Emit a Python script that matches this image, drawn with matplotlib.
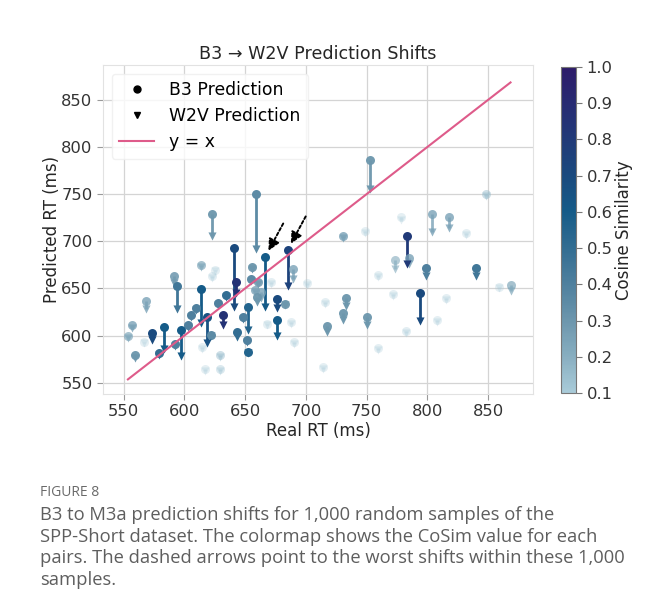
import numpy as np
import matplotlib
matplotlib.use("Agg")
import matplotlib.pyplot as plt
from matplotlib.colors import LinearSegmentedColormap, Normalize
from matplotlib.lines import Line2D
from matplotlib.cm import ScalarMappable

# samples: real RT, B3 prediction, W2V prediction, cosine similarity
real_rt = [553.5, 557, 559, 566.5, 568.5, 573.5, 579.5, 583, 591.5, 594,
           592.5, 597.5, 603, 605.5, 609.5, 614, 614.5, 613.5, 619, 622,
           625, 623, 627.5, 634, 632, 629.5, 629, 617, 641, 642.5,
           643, 652, 648.5, 651.5, 652.5, 659, 623, 655.5, 655, 661,
           658.5, 663, 660, 666.5, 685, 671, 668, 676, 676, 683,
           688, 690, 689.5, 701, 717.5, 714, 716, 730.5, 733, 730.5,
           750.5, 752.5, 749, 759, 759.5, 771.5, 773.5, 785, 783, 778,
           782.5, 794, 799, 803.5, 808, 815.5, 817.5, 831.5, 840, 848,
           859, 868.5]
b3_pred = [599.5, 611, 579, 593.5, 636.5, 603, 581, 609, 663.5, 653,
           591, 605.5, 611, 622, 629, 649.5, 588, 675, 619.5, 601,
           669.5, 663, 634.5, 643.5, 622, 579, 564, 564, 693, 657,
           604, 630.5, 620, 595, 583, 750, 729, 673, 660.5, 657,
           648, 646.5, 641, 683.5, 691, 657, 612.5, 638.5, 616, 633.5,
           614, 593, 671, 655.5, 610, 567, 636, 706, 640, 624,
           620, 786, 711, 664, 586.5, 644, 680, 682.5, 705.5, 725.5,
           604.5, 645.5, 671.5, 728.5, 616, 639.5, 725.5, 708.5, 672, 750,
           651, 653.5]
w2v_pred = [597, 608, 576, 592, 628, 595, 579, 586, 656, 628.5,
            589, 578.5, 609, 620, 627, 613, 586, 673, 592, 599,
            668, 661, 632, 641, 611, 577, 562, 562, 630, 645,
            598, 606, 618, 593, 581, 692, 706, 671, 658, 655,
            646, 640, 636, 630.5, 653, 655, 611, 629, 599.5, 632,
            612, 591, 660.5, 654, 604, 565, 634, 703, 631, 616,
            611, 755, 709, 662, 585, 642, 671, 676, 676, 723,
            603, 615.5, 663, 710, 614, 638, 714, 707, 663.5, 748,
            650, 647.5]
cos_sim = [0.22, 0.25, 0.3, 0.08, 0.25, 0.7, 0.5, 0.6, 0.28, 0.45,
           0.4, 0.6, 0.4, 0.4, 0.4, 0.6, 0.08, 0.22, 0.65, 0.35,
           0.08, 0.1, 0.4, 0.5, 0.85, 0.15, 0.12, 0.08, 0.7, 0.85,
           0.5, 0.55, 0.4, 0.4, 0.55, 0.35, 0.3, 0.3, 0.35, 0.28,
           0.25, 0.25, 0.3, 0.6, 0.75, 0.06, 0.06, 0.7, 0.6, 0.3,
           0.05, 0.06, 0.25, 0.05, 0.3, 0.06, 0.05, 0.25, 0.3, 0.3,
           0.3, 0.3, 0.05, 0.06, 0.06, 0.06, 0.2, 0.25, 0.8, 0.05,
           0.1, 0.7, 0.4, 0.25, 0.08, 0.05, 0.25, 0.05, 0.45, 0.15,
           0.05, 0.22]
worst = [43, 44]  # indices of the two pairs marked with dashed arrows

caption_head = "FIGURE 8"
caption = ("B3 to M3a prediction shifts for 1,000 random samples of the\n"
           "SPP-Short dataset. The colormap shows the CoSim value for each\n"
           "pairs. The dashed arrows point to the worst shifts within these 1,000\n"
           "samples.")

real_rt = np.array(real_rt)
b3_pred = np.array(b3_pred)
w2v_pred = np.array(w2v_pred)
cos_sim = np.array(cos_sim)

cmap = LinearSegmentedColormap.from_list("cos", [
    "#a9cbd9", "#88aec0", "#6c96ad", "#4f809e", "#336d92",
    "#155b88", "#1a4a7e", "#213a78", "#272b72", "#2d1b69"])
norm = Normalize(vmin=0.1, vmax=1.0)
colors = cmap(norm(cos_sim))
colors[:, 3] = np.clip(cos_sim * 3.2, 0.3, 1.0)

plt.rcParams['font.family'] = ['DejaVu Sans']
fig = plt.figure(figsize=(6.54, 6.12), dpi=100)
ax = fig.add_axes([103 / 654, 1 - 394 / 612, 430 / 654, 329 / 612])
cax = fig.add_axes([561 / 654, 1 - 393 / 612, 15 / 654, 326 / 612])

ax.grid(True, color="#d4d4d4", lw=0.9)
ax.set_axisbelow(True)
for s in ax.spines.values():
    s.set_color("#e2e2e2")

order = np.argsort(cos_sim)
for i in order:
    ax.plot([real_rt[i], real_rt[i]], [b3_pred[i], w2v_pred[i]], color=colors[i], lw=2.0,
            solid_capstyle="butt", zorder=2)
    ax.scatter(real_rt[i], w2v_pred[i], marker="v", s=34, color=colors[i], lw=0, zorder=3)
    ax.scatter(real_rt[i], b3_pred[i], marker="o", s=42, color=colors[i], lw=0, zorder=3)

lo, hi = real_rt.min(), real_rt.max()
ax.plot([lo, hi], [lo, hi], color="#de5b8a", lw=1.5, zorder=4)

for i in worst:
    ax.annotate("", xy=(real_rt[i], b3_pred[i]), xytext=(13, 24), textcoords="offset points",
                arrowprops=dict(arrowstyle="-|>", color="black", lw=1.4, linestyle=(0, (1.5, 1.2)),
                                mutation_scale=17, shrinkA=0, shrinkB=5), zorder=5)

ax.set_xlim(533, 887)
ax.set_ylim(538, 887)
ax.set_xticks([550, 600, 650, 700, 750, 800, 850])
ax.set_yticks([550, 600, 650, 700, 750, 800, 850])
ax.tick_params(labelsize=11.8, colors="#333333", length=4, color="#9a9a9a")
ax.set_xlabel("Real RT (ms)", fontsize=12, color="#262626", labelpad=2)
ax.set_ylabel("Predicted RT (ms)", fontsize=12, color="#262626", labelpad=0)
ax.set_title("B3 \u2192 W2V Prediction Shifts", fontsize=12.6, color="#262626", pad=4)

handles = [Line2D([], [], marker="o", ls="none", color="black", markersize=5),
           Line2D([], [], marker="v", ls="none", color="black", markersize=5),
           Line2D([], [], color="#de5b8a", lw=1.5)]
ax.legend(handles, ["B3 Prediction", "W2V Prediction", "y = x"], loc="upper left",
          fontsize=12.4, framealpha=0.8, edgecolor="#eeeeee", borderpad=0.45,
          labelspacing=0.45, handletextpad=0.9)

sm = ScalarMappable(norm=norm, cmap=cmap)
cb = fig.colorbar(sm, cax=cax)
cb.set_ticks(np.arange(0.1, 1.01, 0.1))
cb.ax.tick_params(labelsize=11.8, colors="#333333", length=4, color="#777777")
cb.set_label("Cosine Similarity", fontsize=12, color="#262626", labelpad=2)
cb.outline.set_edgecolor("#777777")

fig.text(40 / 654, 1 - 493 / 612, caption_head, fontsize=10, color="#6a6a6a",
         family="Open Sans", va="center")
fig.text(40 / 654, 1 - 506 / 612, caption, fontsize=13.2, color="#5e5e5e",
         family="Open Sans", va="top", linespacing=1.26)

fig.savefig("out.png", dpi=100)
